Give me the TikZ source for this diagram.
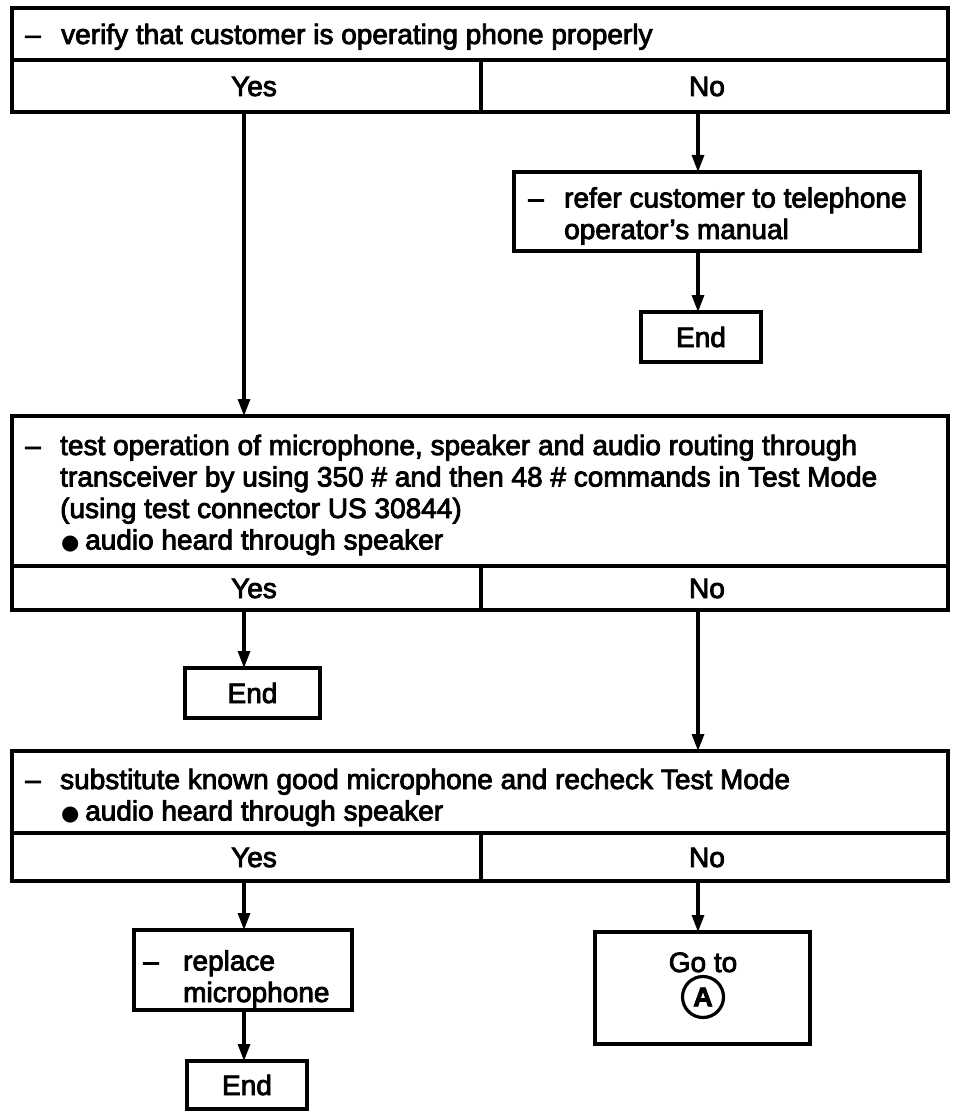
\documentclass[tikz,border=0pt]{standalone}
\usepackage{fontspec}
\setmainfont{Liberation Sans}[RawFeature={embolden=3}]
\newfontfamily\sym{DejaVu Sans}
\usetikzlibrary{arrows.meta}
\begin{document}
\begin{tikzpicture}[x=1pt,y=-1pt,
  box/.style={draw, line width=4pt, inner sep=0pt, outer sep=0pt},
  cellbox/.style={draw, line width=3.5pt, inner sep=0pt, outer sep=0pt},
  txt/.style={anchor=base west, inner sep=0pt, align=left, font=\fontsize{28}{31.5}\selectfont},
  lbl/.style={inner sep=0pt, font=\fontsize{28}{31.5}\selectfont, text height=20pt, text depth=0pt},
  endbox/.style={box, font=\fontsize{28}{31.5}\selectfont, text height=20pt, text depth=0pt},
  arr/.style={line width=3.2pt, -{Triangle[length=17pt,width=12pt]}}
]
\useasboundingbox (0,0) rectangle (960,1118);
\coordinate (colY) at (244,0);
\coordinate (colN) at (698,0);

% Box 1
\node[box, minimum width=936pt, minimum height=52pt] (q1) at (480,34) {};
\node[cellbox, minimum width=469pt, minimum height=52pt] (y1) at (246.5,86) {};
\node[cellbox, minimum width=467pt, minimum height=52pt] (n1) at (714.5,86) {};
\node[txt] (t1) at (25,44) {\makebox[36pt][l]{–}verify that customer is operating phone properly};
\node[lbl] (y1t) at (254,86) {Yes};
\node[lbl] (n1t) at (707,86) {No};

% refer box
\node[box, minimum width=406pt, minimum height=79pt] (r1) at (717,211.5) {};
\node[txt] (t2) at (528,239) {\makebox[36pt][l]{–}refer customer to telephone\\\hspace*{36pt}operator's manual};
\node[endbox, minimum width=120pt, minimum height=50pt] (e1) at (701,337) {End};

% Box 2
\node[box, minimum width=936pt, minimum height=150pt] (q2) at (480,491) {};
\node[cellbox, minimum width=469pt, minimum height=44pt] (y2) at (246.5,588) {};
\node[cellbox, minimum width=467pt, minimum height=44pt] (n2) at (714.5,588) {};
\node[txt] (t3) at (25,549.5) {\makebox[35pt][l]{–}test operation of microphone, speaker and audio routing through\\
\hspace*{35pt}transceiver by using 350 \# and then 48 \# commands in Test Mode\\
\hspace*{35pt}(using test connector US 30844)\\
\hspace*{36pt}\makebox[24pt][l]{\sym\fontsize{21}{31.5}\selectfont ●}audio heard through speaker};
\node[lbl] (y2t) at (254,588) {Yes};
\node[lbl] (n2t) at (707,588) {No};
\node[endbox, minimum width=135pt, minimum height=50pt] (e2) at (252.5,693) {End};

% Box 3
\node[box, minimum width=936pt, minimum height=82pt] (q3) at (480,792) {};
\node[cellbox, minimum width=469pt, minimum height=48pt] (y3) at (246.5,857) {};
\node[cellbox, minimum width=467pt, minimum height=48pt] (n3) at (714.5,857) {};
\node[txt] (t4) at (25,820.5) {\makebox[35pt][l]{–}substitute known good microphone and recheck Test Mode\\
\hspace*{36pt}\makebox[24pt][l]{\sym\fontsize{21}{31.5}\selectfont ●}audio heard through speaker};
\node[lbl] (y3t) at (254,857) {Yes};
\node[lbl] (n3t) at (707,857) {No};

% bottom boxes
\node[box, minimum width=218pt, minimum height=80pt] (r3) at (243,970) {};
\node[txt] (t5) at (143,1002) {\makebox[40pt][l]{–}replace\\\hspace*{40pt}microphone};
\node[endbox, minimum width=120pt, minimum height=48pt] (e3) at (247,1085) {End};
\node[box, minimum width=215pt, minimum height=112pt] (g3) at (702.5,988) {};
\node[lbl] (gt) at (703,962) {Go to};
\node[circle, draw, line width=3.2pt, minimum size=41pt, inner sep=0pt,
      font=\fontsize{27}{27}\selectfont\bfseries] (ca) at (703,997) {A};

% connectors
\draw[arr] (y1.south -| colY) -- (q2.north -| colY);
\draw[arr] (n1.south -| colN) -- (r1.north -| colN);
\draw[arr] (r1.south -| colN) -- (e1.north -| colN);
\draw[arr] (y2.south -| colY) -- (e2.north -| colY);
\draw[arr] (n2.south -| colN) -- (q3.north -| colN);
\draw[arr] (y3.south -| colY) -- (r3.north -| colY);
\draw[arr] (r3.south -| colY) -- (e3.north -| colY);
\draw[arr] (n3.south -| colN) -- (g3.north -| colN);
\end{tikzpicture}
\end{document}
